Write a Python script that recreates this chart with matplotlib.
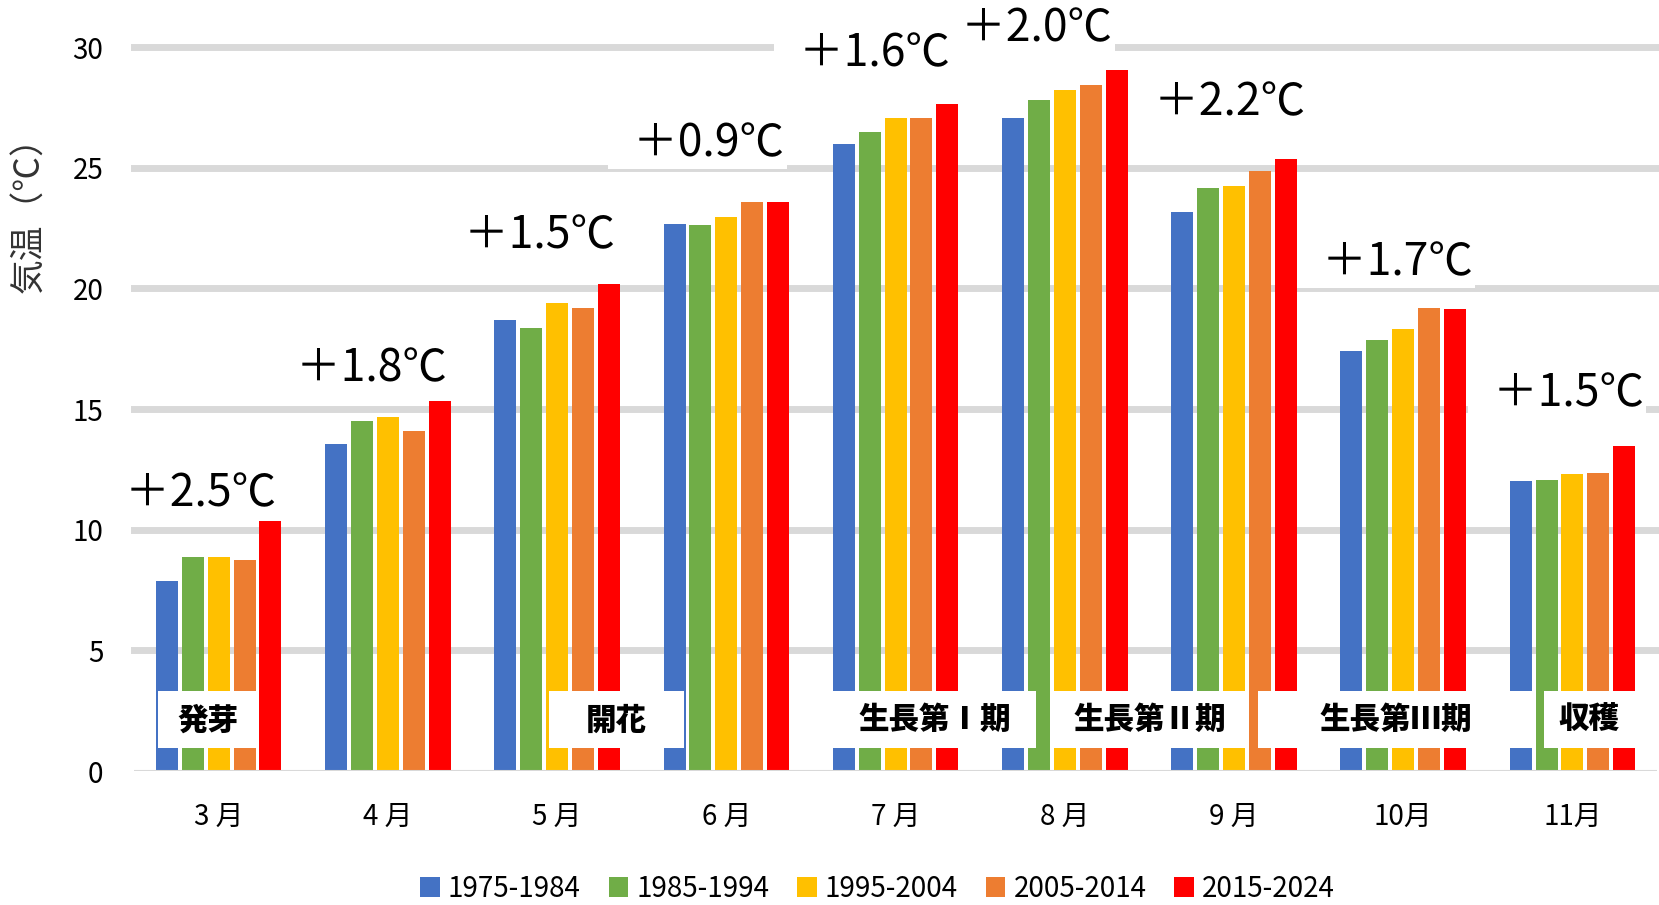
import matplotlib
matplotlib.use("Agg")
import matplotlib.pyplot as plt
from matplotlib.patches import Rectangle
import numpy as np

plt.rcParams["font.family"] = ["Noto Sans CJK JP", "DejaVu Sans"]

# 月別平均気温（10年ごと）
months = ["3 月", "4 月", "5 月", "6 月", "7 月", "8 月", "9 月", "10月", "11月"]
periods = ["1975-1984", "1985-1994", "1995-2004", "2005-2014", "2015-2024"]
t_1975 = [7.87, 13.55, 18.70, 22.68, 26.00, 27.08, 23.18, 17.42, 12.00]
t_1985 = [8.86, 14.50, 18.35, 22.62, 26.47, 27.82, 24.18, 17.86, 12.05]
t_1995 = [8.87, 14.67, 19.40, 22.95, 27.08, 28.21, 24.26, 18.31, 12.30]
t_2005 = [8.73, 14.10, 19.19, 23.57, 27.08, 28.42, 24.87, 19.18, 12.35]
t_2015 = [10.37, 15.35, 20.20, 23.58, 27.63, 29.07, 25.38, 19.13, 13.49]
# 1975-1984 → 2015-2024 の上昇幅
rise = [2.5, 1.8, 1.5, 0.9, 1.6, 2.0, 2.2, 1.7, 1.5]

# 生育ステージ
stages = ["発芽", "開花", "生長第Ⅰ期", "生長第Ⅱ期", "生長第Ⅲ期", "収穫"]

colors = ["#4472C4", "#70AD47", "#FFC000", "#ED7D31", "#FF0000"]

# 上昇幅ラベルの位置（月の中心からのずれ, 高さ）
label_dx = [-0.11, -0.10, -0.11, -0.11, -0.13, -0.17, -0.03, -0.04, -0.03]
label_y = [11.52, 16.70, 22.21, 26.03, 29.75, 30.79, 27.72, 21.09, 15.67]
# ステージ枠の横位置
stage_x = [(-0.36, 0.23), (1.95, 2.75), (3.63, 4.83),
           (4.91, 6.09), (6.14, 7.77), (7.83, 8.37)]

fig = plt.figure(figsize=(16.59, 9.05), dpi=100)
ax = fig.add_axes([0.0808, 0.148, 0.918, 0.808])

x = np.arange(len(months))
series = [t_1975, t_1985, t_1995, t_2005, t_2015]
bars = []
for k, vals in enumerate(series):
    b = ax.bar(x + (k - 2) * 0.153, vals, width=0.13, color=colors[k],
               label=periods[k], zorder=2)
    bars.append(b)

ax.set_xlim(-0.5, len(months) - 0.5)
ax.set_ylim(0, 30.3)

for v in range(5, 31, 5):
    ax.axhline(v, color="#D9D9D9", lw=5, zorder=0, clip_on=False)
ax.axhline(0, color="#D9D9D9", lw=1.5, zorder=3)

for s in ax.spines.values():
    s.set_visible(False)
ax.set_yticks(range(0, 31, 5))
ax.set_xticks(x)
ax.set_xticklabels(months)
ax.tick_params(axis="y", length=0, pad=22, labelsize=20)
ax.tick_params(axis="x", length=0, pad=22, labelsize=20)

fig.text(0.0178, 0.772, "気温（℃）", rotation=90, fontsize=25,
         color="#333333", ha="center", va="center")

# 上昇幅（左側に余白を付けて白地を広げる、左のラベルほど手前）
for i in range(len(months)):
    ax.text(i + label_dx[i] - 0.06, label_y[i], f"\u2002＋{rise[i]:.1f}℃",
            fontsize=32, ha="center", va="center", zorder=6 - i * 0.01,
            bbox=dict(facecolor="white", edgecolor="none", pad=2))

# 生育ステージ
for name, (x0, x1) in zip(stages, stage_x):
    ax.add_patch(Rectangle((x0, 0.95), x1 - x0, 2.35, facecolor="white",
                           edgecolor="none", zorder=4))
    ax.text((x0 + x1) / 2, 2.12, name, fontsize=22, fontweight="black",
            ha="center", va="center", zorder=5)

fig.legend(handles=bars, loc="center", bbox_to_anchor=(0.529, 0.018),
           ncol=5, frameon=False, fontsize=20, handlelength=0.7,
           handleheight=0.7, handletextpad=0.3, columnspacing=1.0)

fig.savefig("out.png", dpi=100)
